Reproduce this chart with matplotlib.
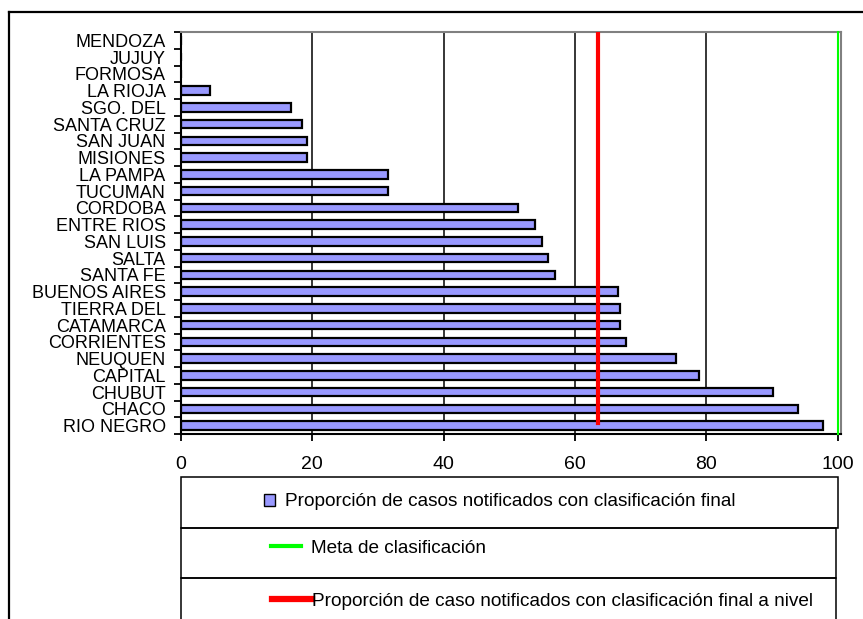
import numpy as np
import matplotlib.pyplot as plt
from matplotlib.patches import Patch
from matplotlib.lines import Line2D

plt.rcParams['font.family'] = ['Liberation Sans', 'DejaVu Sans']

# provincias, de arriba hacia abajo como en el grafico
provincias = ['MENDOZA', 'JUJUY', 'FORMOSA', 'LA RIOJA', 'SGO. DEL', 'SANTA CRUZ',
              'SAN JUAN', 'MISIONES', 'LA PAMPA', 'TUCUMAN', 'CORDOBA', 'ENTRE RIOS',
              'SAN LUIS', 'SALTA', 'SANTA FE', 'BUENOS AIRES', 'TIERRA DEL',
              'CATAMARCA', 'CORRIENTES', 'NEUQUEN', 'CAPITAL', 'CHUBUT', 'CHACO',
              'RIO NEGRO']
proporcion = [0, 0, 0, 4.4, 16.7, 18.4, 19.2, 19.2, 31.5, 31.5, 51.3, 53.9,
              55.0, 55.9, 57.0, 66.6, 66.8, 66.8, 67.7, 75.4, 78.9, 90.1, 94.0,
              97.8]
meta = 100
nivel_nacional = 63.5
xticks = [0, 20, 40, 60, 80, 100]

lbl_barras = 'Proporción de casos notificados con clasificación final'
lbl_meta = 'Meta de clasificación'
lbl_nivel = 'Proporción de caso notificados con clasificación final a nivel'

W, H = 863, 619
fig = plt.figure(figsize=(W / 100, H / 100), dpi=100)
ax = fig.add_axes([181 / W, 1 - 434 / H, (841 - 181) / W, (434 - 32) / H])

n = len(provincias)
pos = np.arange(n)[::-1]

ax.set_axisbelow(True)
ax.grid(axis='x', color='black', linewidth=1.1)
ax.barh(pos, proporcion, height=0.5, color='#9999FF', edgecolor='black',
        linewidth=1.6, zorder=2)
ax.axvline(nivel_nacional, ymin=0.027, ymax=1, color='#FF0000', linewidth=3, zorder=3)
ax.axvline(meta, color='#00FF00', linewidth=1.5, zorder=3, clip_on=False)

ax.set_xlim(0, 100.5)
ax.set_ylim(-0.5, n - 0.5)
ax.set_xticks(xticks)
ax.set_yticks(pos)
ax.set_yticklabels(provincias)
ax.set_yticks(np.arange(n + 1) - 0.5, minor=True)
ax.tick_params(axis='y', which='major', length=0, pad=11, labelsize=13)
ax.tick_params(axis='y', which='minor', length=5, width=1.3, direction='out')
ax.tick_params(axis='x', length=5, width=1.3, direction='out', pad=11, labelsize=14)

for lado in ['left', 'bottom']:
    ax.spines[lado].set_color('black')
    ax.spines[lado].set_linewidth(1.5)
for lado in ['top', 'right']:
    ax.spines[lado].set_color('#808080')
    ax.spines[lado].set_linewidth(1.5)

# marco exterior
fig.add_artist(Line2D([9 / W, 9 / W], [0, 1 - 12 / H], color='black', linewidth=1.6))
fig.add_artist(Line2D([9 / W, 1], [1 - 12 / H, 1 - 12 / H], color='black', linewidth=1.6))

# cajas de la leyenda
cajas = [(477, 528, 838), (528, 578, 836), (578, 625, 836)]
for y0, y1, x1 in cajas:
    fig.add_artist(plt.Rectangle((181 / W, 1 - y1 / H), (x1 - 181) / W, (y1 - y0) / H,
                                 fill=False, edgecolor='black', linewidth=1.1,
                                 transform=fig.transFigure, clip_on=False))

h1 = Patch(facecolor='#9999FF', edgecolor='black', linewidth=1.0)
h2 = Line2D([], [], color='#00FF00', linewidth=3)
h3 = Line2D([], [], color='#FF0000', linewidth=4.5)

fs_ley = 13.7
fig.legend([h1], [lbl_barras], loc='center left', bbox_to_anchor=(264 / W, 1 - 502 / H),
           frameon=False, fontsize=fs_ley, handlelength=0.6, handleheight=0.6,
           handletextpad=0.5, borderpad=0, borderaxespad=0)
fig.legend([h2], [lbl_meta], loc='center left', bbox_to_anchor=(271 / W, 1 - 548 / H),
           frameon=False, fontsize=fs_ley, handlelength=1.6, handletextpad=0.5,
           borderpad=0, borderaxespad=0)
fig.legend([h3], [lbl_nivel], loc='center left', bbox_to_anchor=(272 / W, 1 - 601 / H),
           frameon=False, fontsize=fs_ley, handlelength=2.1, handletextpad=0.0,
           borderpad=0, borderaxespad=0)

fig.savefig('out.png', dpi=100)
